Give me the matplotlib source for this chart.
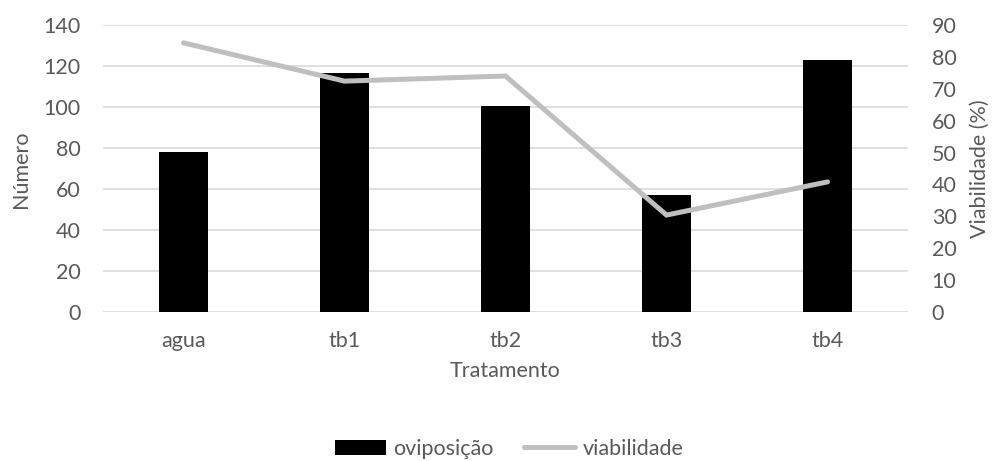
import matplotlib.pyplot as plt
import numpy as np

plt.rcParams['font.family'] = ['Lato', 'DejaVu Sans']

# data
tratamentos = ['agua', 'tb1', 'tb2', 'tb3', 'tb4']
oviposicao = [78.2, 116.7, 100.5, 56.9, 122.8]
viabilidade = [84.4, 72.4, 74.0, 30.4, 40.8]

txt = '#595959'
fs = 15.5

fig = plt.figure(figsize=(9.92, 4.61), dpi=100)
ax = fig.add_axes([103/992, 1 - 312/461, 805/992, 287/461])
x = np.arange(len(tratamentos))

ax.bar(x, oviposicao, width=0.31, color='black', zorder=2, label='oviposição')
ax.set_xlim(-0.5, len(tratamentos) - 0.5)
ax.set_ylim(0, 140)
ax.set_yticks(np.arange(0, 141, 20))
ax.set_xticks(x)
ax.set_xticklabels(tratamentos)
ax.yaxis.grid(True, color='#D9D9D9', linewidth=1.2, zorder=0)
ax.set_axisbelow(True)
ax.tick_params(axis='both', length=0, labelsize=fs, labelcolor=txt)
ax.tick_params(axis='y', pad=16)
ax.tick_params(axis='x', pad=14)
for s in ax.spines.values():
    s.set_visible(False)

ax2 = ax.twinx()
ax2.plot(x, viabilidade, color='#BFBFBF', linewidth=3.6, solid_capstyle='round',
         solid_joinstyle='miter', label='viabilidade', zorder=3)
ax2.set_ylim(0, 90)
ax2.set_yticks(np.arange(0, 91, 10))
ax2.tick_params(axis='y', length=0, labelsize=fs, labelcolor=txt, pad=17)
for s in ax2.spines.values():
    s.set_visible(False)

fig.text(21/992, 1 - 169/461, 'Número', rotation=90, ha='center', va='center',
         fontsize=fs, color=txt)
fig.text(980/992, 1 - 169/461, 'Viabilidade (%)', rotation=90, ha='center', va='center',
         fontsize=fs, color=txt)
fig.text(505/992, 1 - 371/461, 'Tratamento', ha='center', va='center',
         fontsize=fs, color=txt)

h1, l1 = ax.get_legend_handles_labels()
h2, l2 = ax2.get_legend_handles_labels()
leg = fig.legend(h1 + h2, l1 + l2, loc='center', bbox_to_anchor=(509/992, 1 - 449/461),
                 ncol=2, frameon=False, fontsize=fs, handlelength=2.4,
                 handletextpad=0.33, columnspacing=1.4, borderpad=0.2)
for t in leg.get_texts():
    t.set_color(txt)

fig.savefig('out.png', dpi=100)
